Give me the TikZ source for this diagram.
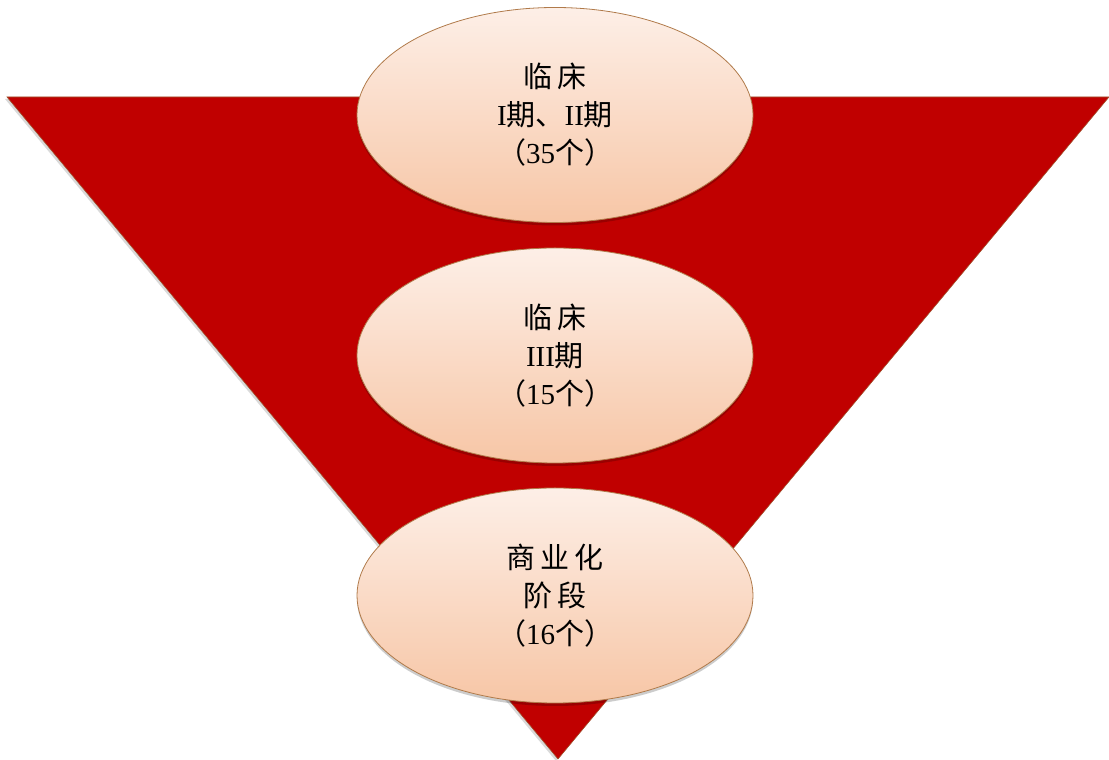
\documentclass[tikz,border=0pt]{standalone}
\usepackage{fontspec}
\setmainfont{Liberation Serif}
\newfontfamily\cjk{Noto Sans CJK SC}
\usetikzlibrary{shapes.geometric,shadows}
\definecolor{tri}{HTML}{C00000}
\definecolor{triedge}{HTML}{A0522D}
\definecolor{elltop}{HTML}{FDEFE7}
\definecolor{ellbot}{HTML}{F7C6A6}
\definecolor{elledge}{HTML}{B07A4A}
\tikzset{
  stage/.style={ellipse, draw=elledge, line width=0.8pt, top color=elltop, bottom color=ellbot,
    minimum width=396pt, minimum height=215pt, inner sep=0pt, align=center,
    font=\fontsize{29pt}{38pt}\selectfont,
    drop shadow={shadow xshift=0pt, shadow yshift=-3pt, opacity=0.2, fill=black}},
  funnel/.style={fill=tri, draw=triedge, line width=0.6pt,
    drop shadow={shadow xshift=-2pt, shadow yshift=-2pt, opacity=0.15, fill=black}}
}
\begin{document}
\begin{tikzpicture}[x=1pt,y=1pt]
\useasboundingbox (0,0) rectangle (1109,760);
\coordinate (tl) at (7,663);
\coordinate (tr) at (1109,663);
\coordinate (ap) at (558,1);
\path[funnel] (tl) -- (tr) -- (ap) -- cycle;
\node[stage] (s1) at (555,645) {{\cjk 临\,床}\\I{\cjk 期、}II{\cjk 期}\\{\cjk （}35{\cjk 个）}};
\node[stage] (s2) at (555,404.5) {{\cjk 临\,床}\\III{\cjk 期}\\{\cjk （}15{\cjk 个）}};
\node[stage] (s3) at (555,164.5) {{\cjk 商\,业\,化}\\{\cjk 阶\,段}\\{\cjk （}16{\cjk 个）}};
\end{tikzpicture}
\end{document}
